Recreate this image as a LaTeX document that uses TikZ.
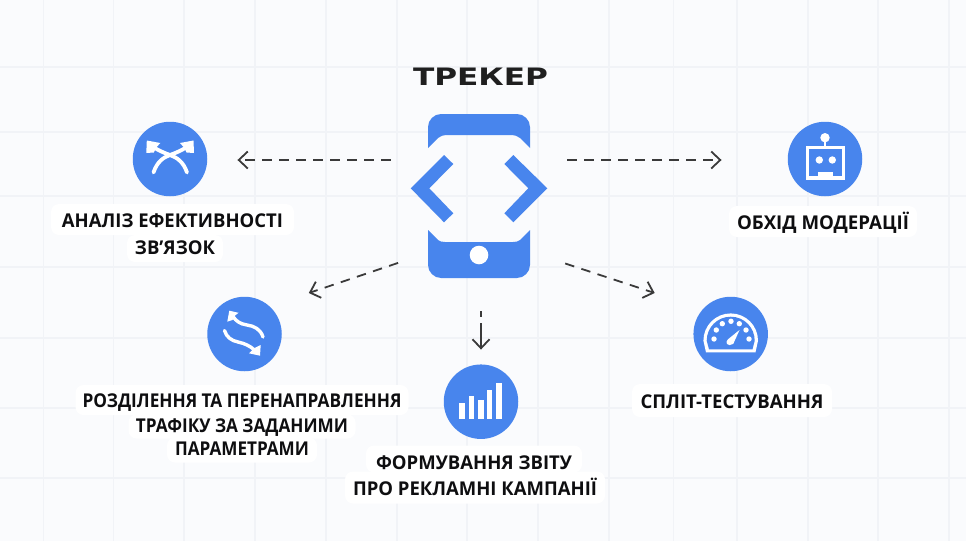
\documentclass[tikz,border=0pt]{standalone}
\usepackage{fontspec}
\usepackage{graphicx}
\setmainfont{Open Sans}[BoldFont={Open Sans Bold}]
\newfontfamily\titlefont{DejaVu Sans}
\usetikzlibrary{arrows.meta,calc}
\definecolor{iconblue}{HTML}{4885ED}
\definecolor{pagebg}{HTML}{FAFBFD}
\definecolor{gridc}{HTML}{F1F3F7}
\definecolor{flowc}{HTML}{3A3A3A}
\definecolor{inkc}{HTML}{0E0E10}
\newcommand{\fitw}[3]{\raisebox{#2}{\resizebox{#1}{\height}{#3}}}
\tikzset{
  gridline/.style={draw=gridc,line width=1.6pt},
  icon/.style={circle,fill=iconblue,minimum size=74.5pt,inner sep=0pt},
  glyph/.style={draw=white,line width=3.8pt,line cap=round},
  lab/.style={fill=white,rounded corners=8pt,inner sep=0pt,text=inkc,text height=14pt,text depth=0pt,font=\fontsize{19pt}{19pt}\selectfont\bfseries,align=center},
  flow/.style={draw=flowc,line width=1.8pt,dash pattern=on 9.5pt off 7.5pt,-{Straight Barb[length=9pt,width=17pt,line width=1.8pt]}},
}
\begin{document}
\begin{tikzpicture}[x=1pt,y=-1pt]
\useasboundingbox (0,0) rectangle (966,541);
\fill[pagebg] (0,0) rectangle (966,541);
\foreach \gx in {43.5,113.5,184,255,326,397,467,538,609,673.5,737,808,878,949}
  \draw[gridline] (\gx,0) -- (\gx,541);
\foreach \gy in {67,132,196,267,338,408,478}
  \draw[gridline] (0,\gy) -- (966,\gy);

% title
\node[inner sep=0pt,text=black!88] (title) at (480.5,77) {\resizebox{135pt}{17.5pt}{\titlefont\bfseries ТРЕКЕР}};

% phone
\node[minimum width=136pt,minimum height=164pt,inner sep=0pt] (phone) at (479,196) {};
\fill[iconblue] (428,148) -- (428,127) .. controls (428,120) and (434,114) .. (441,114) -- (517,114) .. controls (524,114) and (530,120) .. (530,127) -- (530,148) -- (520,138) .. controls (517,136) and (515,135) .. (512,135) -- (446,135) .. controls (443,135) and (441,136) .. (438,138) -- cycle;
\fill[iconblue] (428,230) -- (438,240) .. controls (440,241.5) and (442,242) .. (445,242) -- (513,242) .. controls (516,242) and (518,241.5) .. (520,240) -- (530,230) -- (530,265) .. controls (530,272) and (524,278) .. (517,278) -- (441,278) .. controls (434,278) and (428,272) .. (428,265) -- cycle;
\fill[white] (479,255) circle[radius=9.3pt];
\fill[iconblue] (444,155) -- (453.3,164) -- (429.3,188.3) -- (453.3,213.3) -- (444,222.3) -- (410.7,188.3) -- cycle;
\fill[iconblue] (513.3,155) -- (504.3,164) -- (528.3,188.3) -- (504.3,213.3) -- (513.3,222.3) -- (547.3,188.3) -- cycle;

% icons
\node[icon] (cross) at (170,159) {};
\node[icon] (robot) at (825,159) {};
\node[icon] (swirl) at (244.5,334) {};
\node[icon] (bars) at (481,401.7) {};
\node[icon] (gauge) at (730.7,334) {};

% cross glyph
\draw[glyph] (153.5,172.5) .. controls (157,162) and (163,157.5) .. (170,155) .. controls (177,152.5) and (181,150.5) .. (187,147);
\draw[glyph] (187,172.5) .. controls (183.5,162) and (177,157.5) .. (170,155) .. controls (163,152.5) and (159,150.5) .. (153,147);
\fill[white] (193.5,140.5) -- (180,143) -- (184,147.5) -- (186.5,152.5) -- (194,153) -- cycle;
\fill[white] (146.8,140.5) -- (160.3,143) -- (156.3,147.5) -- (153.8,152.5) -- (146.3,153) -- cycle;

% robot glyph
\fill[white] (806,146) rectangle (845,179.5);
\fill[iconblue] (809.3,149.3) rectangle (841.7,176.2);
\fill[white] (818.3,171.7) rectangle (832.7,179.5);
\fill[white] (819.3,160) circle[radius=3.7pt];
\fill[white] (832.3,160) circle[radius=3.7pt];
\fill[white] (825,137.7) circle[radius=4.7pt];
\fill[white] (824,138) rectangle (826,147);

% swirl glyph
\draw[glyph,line width=3.4pt] (263,337) .. controls (260.5,329) and (254,326) .. (247,325) .. controls (240,324) and (236,321) .. (233,316.5);
\fill[white] (229.3,310.7) -- (238.5,312.8) -- (234.5,316) -- (232.5,320) -- (227.3,321.7) -- cycle;
\draw[glyph,line width=3.4pt] (224.5,330.5) .. controls (226.5,337) and (231,340.5) .. (238,342) .. controls (245,343.5) and (250,346) .. (254.5,350);
\fill[white] (260,355.7) -- (249,353.3) -- (252.5,350) -- (255.5,347.5) -- (260.7,345) -- cycle;

% bars glyph
\fill[white] (459.3,403.3) rectangle (465,419.3);
\fill[white] (469,396) rectangle (474.3,419.3);
\fill[white] (478.3,400) rectangle (483.7,419.3);
\fill[white] (487,390) rectangle (492.3,419.3);
\fill[white] (496.3,383.3) rectangle (501.7,419.3);

% gauge glyph
\fill[white] (703.4,340.7) .. controls (703.4,325.6) and (715.6,313.4) .. (730.7,313.4) .. controls (745.8,313.4) and (758,325.6) .. (758,340.7) -- (755.5,352.3) -- (706,352.3) -- cycle;
\fill[iconblue] (706.7,340.7) .. controls (706.7,327.4) and (717.4,316.7) .. (730.7,316.7) .. controls (744,316.7) and (754.7,327.4) .. (754.7,340.7) -- (752.5,349.3) -- (709,349.3) -- cycle;
\foreach \dx/\dy in {714/339,716.3/330,722.3/323.7,731/321.3,739.3/323.7,746/330,749/339}
  \fill[white] (\dx,\dy) circle[radius=2.7pt];
\fill[white] (739.5,330) -- (733.3,343.8) .. controls (731,345.5) and (728,345.5) .. (727,344) .. controls (726,342) and (726.5,341) .. (728,339.3) -- cycle;

% connectors
\draw[flow] ([shift={(-20,-36)}]phone.west) -- ([shift={(30,1)}]cross.east);
\draw[flow] ([shift={(20,-36)}]phone.east) -- ([shift={(-66,1)}]robot.west);
\draw[flow] ([shift={(-12.7,-15.3)}]phone.south west) -- ([shift={(37.8,-14.5)}]swirl.north east);
\draw[flow] ([shift={(18,-14.7)}]phone.south east) -- ([shift={(-49.5,-14.5)}]gauge.north west);
\draw[flow,dash pattern=on 6pt off 6pt on 40pt] ([shift={(2,33)}]phone.south) -- ([shift={(0,-14.7)}]bars.north);

% labels
\node[lab,minimum width=243pt,minimum height=31pt] (l1a) at (172.5,219.5) {\fitw{221pt}{-0.5pt}{АНАЛІЗ ЕФЕКТИВНОСТІ}};
\node[lab,minimum width=96pt,minimum height=27pt] (l1b) at (175,248.5) {\fitw{80pt}{1.5pt}{ЗВ’ЯЗОК}};
\node[lab,minimum width=188pt,minimum height=31pt] (l2) at (823,221.5) {\fitw{172pt}{-0.5pt}{ОБХІД МОДЕРАЦІЇ}};
\node[lab,minimum width=333pt,minimum height=30pt] (l3a) at (242,400) {\fitw{319pt}{0pt}{РОЗДІЛЕННЯ ТА ПЕРЕНАПРАВЛЕННЯ}};
\node[lab,minimum width=227pt,minimum height=24pt] (l3b) at (242,426.5) {\fitw{212pt}{1.5pt}{ТРАФІКУ ЗА ЗАДАНИМИ}};
\node[lab,minimum width=150pt,minimum height=25pt] (l3c) at (242,450) {\fitw{134pt}{2pt}{ПАРАМЕТРАМИ}};
\node[lab,minimum width=216pt,minimum height=27pt] (l4a) at (474,459) {\fitw{196pt}{-3.5pt}{ФОРМУВАННЯ ЗВІТУ}};
\node[lab,minimum width=260pt,minimum height=32pt] (l4b) at (475,487.5) {\fitw{244pt}{-0.5pt}{ПРО РЕКЛАМНІ КАМПАНІЇ}};
\node[lab,minimum width=200pt,minimum height=33pt] (l5) at (732,400.5) {\fitw{183pt}{-0.5pt}{СПЛІТ-ТЕСТУВАННЯ}};
\end{tikzpicture}
\end{document}
